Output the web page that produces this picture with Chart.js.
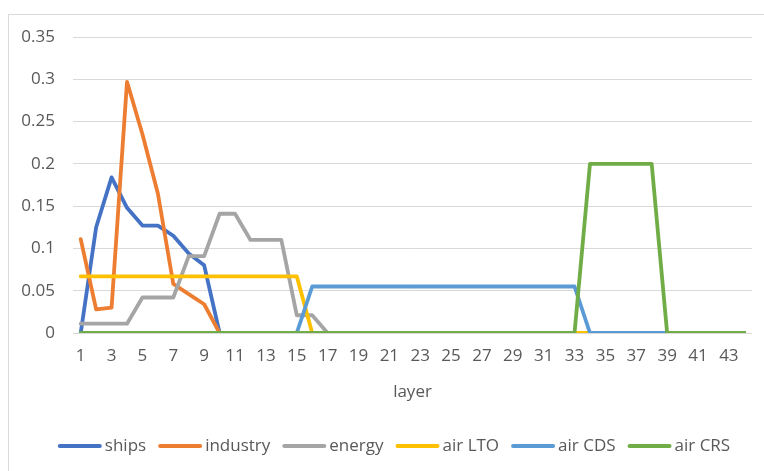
<!DOCTYPE html>
<html>
<head>
<meta charset="utf-8">
<script src="https://cdn.jsdelivr.net/npm/chart.js@4"></script>
<style>
  html, body { margin: 0; padding: 0; background: #ffffff; }
  #wrap { width: 764px; height: 471px; position: relative; }
</style>
</head>
<body>
<div id="wrap"><canvas id="chart" width="764" height="471"></canvas></div>
<script>
// Layer index along the x axis
const layers = [1, 2, 3, 4, 5, 6, 7, 8, 9, 10, 11, 12, 13, 14, 15, 16, 17, 18, 19, 20, 21, 22,
                23, 24, 25, 26, 27, 28, 29, 30, 31, 32, 33, 34, 35, 36, 37, 38, 39, 40, 41, 42, 43, 44];

// Share of emissions per layer, by source
const ships    = [0, 0.125, 0.184, 0.148, 0.127, 0.127, 0.115, 0.094, 0.080, 0,
                  0, 0, 0, 0, 0, 0, 0, 0, 0, 0, 0, 0, 0, 0, 0, 0, 0, 0, 0, 0, 0, 0, 0, 0,
                  0, 0, 0, 0, 0, 0, 0, 0, 0, 0];
const industry = [0.111, 0.028, 0.030, 0.297, 0.235, 0.165, 0.058, 0.046, 0.034, 0,
                  0, 0, 0, 0, 0, 0, 0, 0, 0, 0, 0, 0, 0, 0, 0, 0, 0, 0, 0, 0, 0, 0, 0, 0,
                  0, 0, 0, 0, 0, 0, 0, 0, 0, 0];
const energy   = [0.011, 0.011, 0.011, 0.011, 0.042, 0.042, 0.042, 0.091, 0.091, 0.141,
                  0.141, 0.110, 0.110, 0.110, 0.021, 0.021, 0, 0, 0, 0, 0, 0, 0, 0, 0, 0,
                  0, 0, 0, 0, 0, 0, 0, 0, 0, 0, 0, 0, 0, 0, 0, 0, 0, 0];
const airLTO   = [0.067, 0.067, 0.067, 0.067, 0.067, 0.067, 0.067, 0.067, 0.067, 0.067,
                  0.067, 0.067, 0.067, 0.067, 0.067, 0, 0, 0, 0, 0, 0, 0, 0, 0, 0, 0,
                  0, 0, 0, 0, 0, 0, 0, 0, 0, 0, 0, 0, 0, 0, 0, 0, 0, 0];
const airCDS   = [0, 0, 0, 0, 0, 0, 0, 0, 0, 0, 0, 0, 0, 0, 0,
                  0.055, 0.055, 0.055, 0.055, 0.055, 0.055, 0.055, 0.055, 0.055, 0.055,
                  0.055, 0.055, 0.055, 0.055, 0.055, 0.055, 0.055, 0.055,
                  0, 0, 0, 0, 0, 0, 0, 0, 0, 0, 0];
const airCRS   = [0, 0, 0, 0, 0, 0, 0, 0, 0, 0, 0, 0, 0, 0, 0, 0, 0, 0, 0, 0, 0, 0, 0, 0,
                  0, 0, 0, 0, 0, 0, 0, 0, 0,
                  0.2, 0.2, 0.2, 0.2, 0.2, 0, 0, 0, 0, 0, 0];

const seriesNames  = ['ships', 'industry', 'energy', 'air LTO', 'air CDS', 'air CRS'];
const seriesValues = [ships, industry, energy, airLTO, airCDS, airCRS];
const seriesColors = ['#4472C4', '#ED7D31', '#A5A5A5', '#FFC000', '#5B9BD5', '#70AD47'];

const yTickLabels = ['0', '0.05', '0.1', '0.15', '0.2', '0.25', '0.3', '0.35'];
const xTitle = 'layer';

const FONT = "'Open Sans', 'DejaVu Sans', sans-serif";
const TEXT = '#595959';
const GRID = '#d9d9d9';

// Outer frame of the chart
const framePlugin = {
  id: 'frame',
  beforeDraw(chart) {
    const ctx = chart.ctx;
    ctx.save();
    ctx.fillStyle = '#ffffff';
    ctx.fillRect(0, 0, chart.width, chart.height);
    ctx.strokeStyle = GRID;
    ctx.lineWidth = 1;
    ctx.strokeRect(8.5, 14.5, chart.width + 20, chart.height + 20);
    ctx.restore();
  }
};

// Legend: short line swatch directly followed by the series name
const lineLegend = {
  id: 'lineLegend',
  afterDraw(chart) {
    const ctx = chart.ctx;
    const swatch = 44, gapText = 3, gapItem = 12, cy = 446, cx = 394;
    ctx.save();
    ctx.font = '17px ' + FONT;
    ctx.textBaseline = 'middle';
    const items = chart.data.datasets.map(ds => ({
      label: ds.label, color: ds.borderColor, w: ctx.measureText(ds.label).width
    }));
    const total = items.reduce((s, it) => s + swatch + gapText + it.w, 0) + gapItem * (items.length - 1);
    let x = cx - total / 2;
    items.forEach(it => {
      ctx.strokeStyle = it.color;
      ctx.lineWidth = 4;
      ctx.lineCap = 'round';
      ctx.beginPath();
      ctx.moveTo(x + 2, cy);
      ctx.lineTo(x + swatch - 2, cy);
      ctx.stroke();
      ctx.fillStyle = TEXT;
      ctx.textAlign = 'left';
      ctx.fillText(it.label, x + swatch + gapText, cy);
      x += swatch + gapText + it.w + gapItem;
    });
    ctx.restore();
  }
};

const datasets = seriesNames.map((name, i) => ({
  label: name,
  data: seriesValues[i],
  borderColor: seriesColors[i],
  backgroundColor: seriesColors[i],
  borderWidth: 3.8,
  pointRadius: 0,
  pointHoverRadius: 0,
  tension: 0,
  fill: false,
  borderJoinStyle: 'round',
  borderCapStyle: 'round',
  order: seriesNames.length - i
}));

new Chart(document.getElementById('chart'), {
  type: 'line',
  data: { labels: layers, datasets },
  options: {
    responsive: false,
    animation: false,
    events: [],
    layout: { padding: { top: 37, right: 12, bottom: 0, left: 0 } },
    plugins: {
      legend: { display: false },
      tooltip: { enabled: false },
      title: { display: false }
    },
    scales: {
      x: {
        type: 'category',
        offset: true,
        grid: { display: false, drawTicks: false },
        border: { display: false },
        ticks: {
          autoSkip: false,
          maxRotation: 0,
          padding: 13,
          color: TEXT,
          font: { family: FONT, size: 17 },
          callback(value, index) {
            return index % 2 === 0 ? String(layers[index]) : '';
          }
        },
        title: {
          display: true,
          text: xTitle,
          color: TEXT,
          font: { family: FONT, size: 17 },
          padding: { top: 0, bottom: 69 }
        },
        afterFit(scale) { scale.height = 138; }
      },
      y: {
        min: 0,
        max: 0.35,
        grid: { color: GRID, lineWidth: 1, drawTicks: false },
        border: { display: false },
        ticks: {
          stepSize: 0.05,
          padding: 18,
          color: TEXT,
          font: { family: FONT, size: 17 },
          callback(value, index) { return yTickLabels[index]; }
        },
        afterFit(scale) { scale.width = 73; }
      }
    }
  },
  plugins: [framePlugin, lineLegend]
});
</script>
</body>
</html>
